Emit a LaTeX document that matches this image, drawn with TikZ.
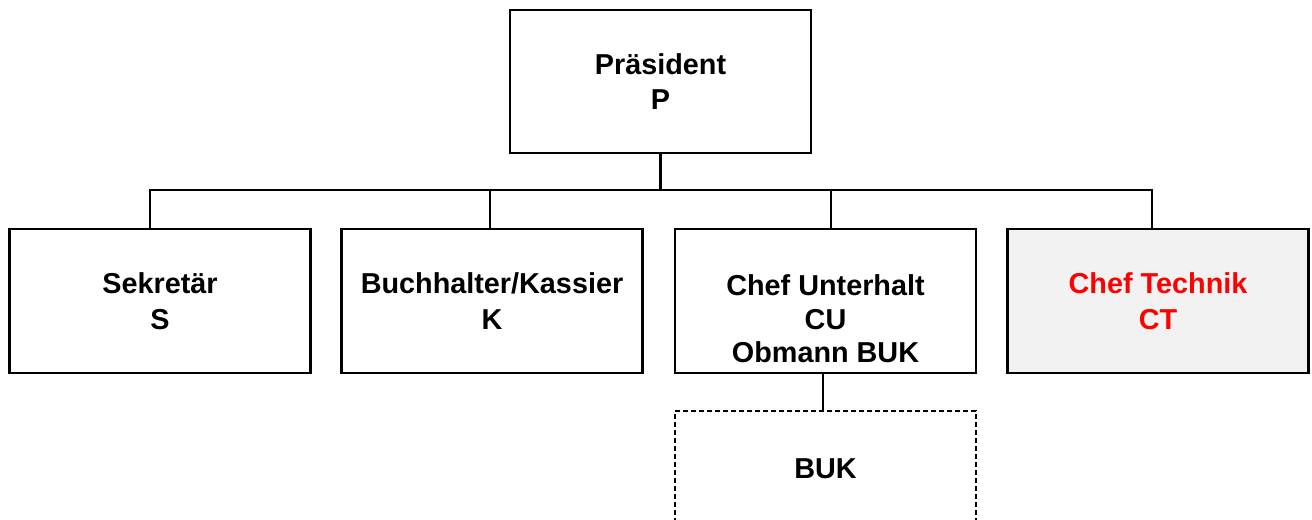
\documentclass[tikz,border=0pt]{standalone}
\usepackage{fontspec}
\setmainfont{Liberation Sans}
\usepackage{tikz}
\definecolor{ctgray}{HTML}{F2F2F2}
\tikzset{
box/.style={draw, line width=1.6pt, minimum width=225.75pt, minimum height=107.5pt, inner sep=0pt, align=center, font=\bfseries\fontsize{21.6pt}{26.7pt}\selectfont},
conn/.style={line width=1.6pt}
}

\begin{document}
\begin{tikzpicture}[x=0.75pt,y=-0.75pt]
\useasboundingbox (0,0) rectangle (1312,519);
\node[box] (pres) at (660.5,81.5) {Präsident\\P};
\node[box] (sek) at (160,301) {Sekretär\\S};
\node[box] (buch) at (492,301) {Buchhalter/Kassier\\K};
\node[box] (cu) at (825.5,301) {};
\node[box, fill=ctgray, text=red] (ct) at (1158,301) {Chef Technik\\CT};
\node[box, line width=1pt, dash pattern=on 3.75pt off 2.25pt, minimum height=86.25pt] (buk) at (825.5,468.5) {BUK};
\node[box, draw=none, font=\bfseries\fontsize{21.6pt}{25.1pt}\selectfont] at ([yshift=-13.5pt]cu.center) {Chef Unterhalt\\CU\\Obmann BUK};
\coordinate (bar) at (661,190);
\draw[conn] (pres.south) -- (pres.south |- bar);
\draw[conn] ([xshift=-7.5pt]sek.north) |- (bar) -| ([xshift=-4.5pt]ct.north);
\draw[conn] ([xshift=-1.5pt]buch.north) -- ([xshift=-1.5pt]buch.north |- bar);
\draw[conn] ([xshift=4.1pt]cu.north) -- ([xshift=4.1pt]cu.north |- bar);
\draw[conn] ([xshift=-2pt]cu.south) -- ([xshift=-2pt]buk.north);
\end{tikzpicture}
\end{document}
